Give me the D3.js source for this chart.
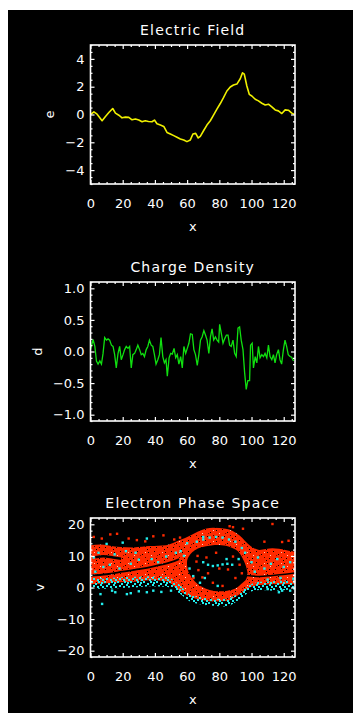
<!DOCTYPE html>
<html>
<head>
<meta charset="utf-8">
<script src="https://cdn.jsdelivr.net/npm/d3@7/dist/d3.min.js"></script>
<style>
  html, body { margin: 0; padding: 0; background: #fff; overflow: hidden; }
  svg { display: block; position: absolute; left: 0; top: 0; }
  text { font-family: "DejaVu Sans", sans-serif; fill: #fff; }
</style>
</head>
<body>
<div class="canvas"></div>
<script>
// ---- data ----
const xTicks = [0, 20, 40, 60, 80, 100, 120];

// electric field
const efX = [0,2.1,4.1,7.2,9.3,11.4,13.8,15.5,17.6,19.6,21.7,23.8,25.8,27.9,30,32,34,36,38.2,39.7,
  41.3,43.4,45.5,47.5,49.6,51.7,53.7,55.8,57.9,59.9,62,63.6,65.3,66.9,68.2,70.2,72.3,74.4,76.4,78.5,
  80.6,82.6,84.7,86.8,88.8,90.9,93,94.4,95.5,97.1,98.6,100.2,102.3,104.3,106.4,108.5,110.5,112.6,114.7,116.7,
  118.8,120.9,122.9,125,126.7];
const efY = [0,0.19,0.02,-0.45,-0.14,0.14,0.43,0.1,-0.05,-0.24,-0.19,-0.21,-0.38,-0.33,-0.4,-0.52,-0.45,-0.5,-0.52,-0.4,
  -0.67,-0.76,-0.86,-1.29,-1.4,-1.52,-1.64,-1.76,-1.83,-1.95,-1.83,-1.4,-1.36,-1.69,-1.57,-1.17,-0.76,-0.45,-0.05,0.38,
  0.79,1.21,1.69,1.98,2.12,2.19,2.57,3.0,2.9,2.05,1.45,1.33,1.1,0.98,0.81,0.69,0.74,0.55,0.33,0.26,
  0.07,0.33,0.31,0.1,0];
const efTicks = [-4, -2, 0, 2, 4];

// charge density
const cdX = [0,1.6,2.7,3.7,4.7,5.8,6.8,7.8,8.8,9.9,10.9,11.9,13,14,15,16,17.1,18.1,19.1,20.2,
  21.2,22.2,23.3,24.3,25.3,26.3,27.4,28.4,29.4,30.5,31.5,32.5,33.5,34.6,35.6,36.6,37.7,38.7,39.7,40.7,
  41.8,42.8,43.8,44.9,45.9,46.9,47.7,48.8,49.8,50.8,51.9,52.9,53.9,54.9,56,57,58,59.1,60.1,61.1,
  62.1,63.2,64.2,65.2,66.3,67.3,68.3,69.3,70.4,71.4,72.4,73.5,74.5,75.5,76.5,77.6,78.6,79.6,80.2,81.3,
  82.3,83.3,84.4,85.4,86.4,87.4,88.5,89.5,90.5,91.6,92.6,93.6,94.7,95.7,96.7,97.7,98.8,99.4,100.4,101.2,
  102.3,103.3,104.3,105.3,106.4,107.4,108.4,109.5,110.5,111.5,112.6,113.6,114.6,115.6,116.7,117.7,118.7,119.8,120.8,121.8,
  122.8,123.9,124.9,126.1];
const cdY = [0.03,0.19,0.08,-0.15,-0.2,-0.15,-0.2,-0.03,0.22,0.18,0.2,0.18,0.1,0.08,-0.05,-0.26,-0.03,0.08,-0.13,-0.05,
  0.03,0.08,0.05,0.08,-0.26,-0.05,-0.03,0.03,0.1,0.03,-0.05,-0.03,-0.08,0.03,0.08,0.18,0.1,0.08,-0.05,-0.2,
  -0.13,-0.05,0.22,-0.08,-0.18,-0.13,-0.39,-0.1,-0.03,-0.04,0.05,-0.1,-0.05,-0.2,-0.08,-0.26,0.08,-0.03,0.05,0.13,
  0.28,0.27,0.03,-0.05,-0.22,-0.05,0.18,0.23,0.33,0.26,0.18,-0.03,0.23,0.36,0.18,0.23,0.18,0.15,0.43,0.28,
  0.13,0.2,0.26,0.26,0.1,0.08,0.18,-0.03,-0.08,0.37,0.39,0.18,0.03,-0.33,-0.6,-0.46,-0.46,0.1,0.13,-0.26,
  -0.08,-0.18,0.08,-0.1,-0.05,-0.08,-0.03,-0.1,0.1,-0.08,-0.13,-0.05,-0.18,-0.05,0.03,-0.13,-0.2,0.03,0.18,0.08,
  -0.05,-0.08,-0.09,-0.15];
const cdTicks = [-1, -0.5, 0, 0.5, 1];

// electron phase space: envelopes of the dense bands
const psX       = [0, 6, 16.5, 27, 37, 47, 55.5, 62, 68, 76, 84, 92.6, 98.8, 105, 113, 121, 127];
const redTop    = [13.4, 13.6, 12.9, 12.7, 13.1, 13.4, 15, 16.5, 18, 18.9, 18.6, 16.5, 13.4, 11.9, 12.4, 11.9, 11.3];
const redBottom = [1.0, 1.2, 1.6, 1.8, 2.3, 2.0, -1.2, -3.0, -3.8, -4.4, -4.3, -2.1, 0, 0.8, 1.0, 1.0, 1.0];
const cyanTop   = [3.0, 3.0, 3.2, 3.4, 3.6, 3.4, 0.8, -2.3, -3.0, -3.6, -3.6, -1.6, 0.8, 1.8, 2.0, 2.2, 2.2];
const cyanBot   = [-0.3, -0.4, -0.2, 0, 0.4, 0.2, -2, -4.5, -5.3, -5.8, -6.0, -3.8, -1.4, -0.8, -1.0, -0.8, -0.6];

// vortex hole outline
const holeX = [60, 62, 64, 68, 76, 84, 90, 93, 96, 97.5, 96.5, 94.5, 90, 85, 80, 74, 69, 65.5, 62.5, 60.5];
const holeV = [8.5, 10.5, 11.5, 12.6, 13.4, 13.2, 12, 10.5, 7.5, 4.5, 2.5, 1.5, -0.3, -1, -1.2, -0.8, 0.3, 1.6, 3.5, 5.5];

// dark streaks inside the bands
const streakLeftX  = [0, 10, 20, 30, 40, 50, 55];
const streakLeftV  = [3.8, 4.2, 5, 5.8, 6.8, 8, 9];
const streakTopX   = [3, 8, 14, 19];
const streakTopV   = [9.6, 9.9, 9.5, 9.1];
const streakRightX = [97, 105, 113, 121, 127];
const streakRightV = [3.8, 3.5, 3.8, 4.2, 4.6];

// loose particles
const redDotX = [2,7,12.3,16.5,23.7,28.8,34,39,45.3,52,55.6,86.4,88.5,94.7,113,119,123,108,
  65.8,67,69.5,72,73,80,85.4,88.5,92.6,90,76,82,64,66.5,78,94];
const redDotV = [16,15.5,16.8,17,15.5,15,14.6,16.2,16.5,15.2,15.8,19.4,19.1,18.6,20.1,14.4,14.8,14.5,
  8.2,5.5,3.2,9.5,4.5,6,5.7,9.8,7.2,3,1.5,0.5,3,10,11,4.5];
const cyanDotX = [35,20,10,60,70,
  6.2,7.2,13.4,15.4,22.6,25,30,35,39,44,50,117,119,110,124,
  73,76,79,82,85,88,70,63.8,68,79,71,61.5,92,84.5,
  66,70,74,78,82,86,90,94,96,
  3,8,12,18,25,30,38,42,47,53,56,58,2,5,15,22,28,
  100,104,108,112,116,120,124,102,110,118,126];
const cyanDotV = [15.5,14.2,13.8,14,16,
  -2.1,-5.2,-1,-1.5,-2.1,-1.8,-1.2,-1.5,-1,-1.4,-1,-1.5,-1,-0.5,-1,
  7.2,6.8,7,7.3,7.5,7.2,8,3.6,1.5,0.5,3,6,9,9,
  14.5,15.2,15.8,16,15.8,15.2,14.5,12.5,11,
  5,6.5,7.2,6,7.5,8.8,9,8,9.8,11,11.5,10,9.5,11,10.5,11.5,11,
  8,9.5,6,7.5,9,6.5,8,5,2.5,3,2.8];
const psTicks = [-20, -10, 0, 10, 20];

// ---- layout ----
const width = 353, height = 718;
const left = 90.5, right = 295, plotH = 139;
const tops = [45, 282, 518];

const svg = d3.select(".canvas").append("svg")
  .attr("width", width).attr("height", height);

svg.append("rect").attr("x", 8).attr("y", 10)
  .attr("width", width - 8).attr("height", 703).attr("fill", "#000");

const defs = svg.append("defs");
// speckled red for the dense electron bands
const redPat = defs.append("pattern").attr("id", "redSpeck")
  .attr("patternUnits", "userSpaceOnUse").attr("width", 17).attr("height", 11);
redPat.append("rect").attr("width", 17).attr("height", 11).attr("fill", "#ff2a00");
[[1, 1, "#000"], [6, 4, "#000"], [12, 2, "#000"], [14, 8, "#000"], [3, 8, "#000"], [9, 7, "#3a0800"],
 [9, 2, "#ffc0b0"], [15, 5, "#ffd0c0"], [4, 5, "#7a1000"], [11, 10, "#000"]].forEach(p =>
  redPat.append("rect").attr("x", p[0]).attr("y", p[1]).attr("width", 1).attr("height", 1).attr("fill", p[2]));
const cyanPat = defs.append("pattern").attr("id", "cyanSpeck")
  .attr("patternUnits", "userSpaceOnUse").attr("width", 13).attr("height", 7);
[[0, 0], [4, 2], [2, 4], [7, 0], [9, 3], [11, 5], [6, 5], [10, 1]].forEach(p =>
  cyanPat.append("rect").attr("x", p[0]).attr("y", p[1]).attr("width", 2).attr("height", 2).attr("fill", "#22eeee"));

const x = d3.scaleLinear().domain([0, 127]).range([left, right]);

function range(a, b, step) {
  return d3.range(Math.round((b - a) / step) + 1).map(i => +(a + i * step).toFixed(6));
}

function drawFrame(top, y, yMajor, yMinorStep, fmt, title, ytitle, ytitleX) {
  const bottom = top + plotH;
  const g = svg.append("g");
  const [y0, y1] = y.domain();
  const yMinor = range(Math.ceil(y0 / yMinorStep) * yMinorStep, y1, yMinorStep)
    .filter(v => !yMajor.some(m => Math.abs(m - v) < 1e-6));
  const xMinor = range(0, 125, 5).filter(v => v % 20 !== 0);

  const axes = [
    [d3.axisBottom(x).tickValues(xTicks).tickSize(-4).tickPadding(15), `translate(0,${bottom})`],
    [d3.axisBottom(x).tickValues(xMinor).tickSize(-2).tickFormat(""), `translate(0,${bottom})`],
    [d3.axisTop(x).tickValues(xTicks).tickSize(-4).tickFormat(""), `translate(0,${top})`],
    [d3.axisTop(x).tickValues(xMinor).tickSize(-2).tickFormat(""), `translate(0,${top})`],
    [d3.axisLeft(y).tickValues(yMajor).tickSize(-4).tickPadding(6).tickFormat(fmt), `translate(${left},0)`],
    [d3.axisLeft(y).tickValues(yMinor).tickSize(-2).tickFormat(""), `translate(${left},0)`],
    [d3.axisRight(y).tickValues(yMajor).tickSize(-4).tickFormat(""), `translate(${right},0)`],
    [d3.axisRight(y).tickValues(yMinor).tickSize(-2).tickFormat(""), `translate(${right},0)`]
  ];
  axes.forEach(([ax, tr]) => {
    const a = g.append("g").attr("transform", tr).call(ax.tickSizeOuter(0));
    a.select(".domain").remove();
    a.selectAll("line").attr("stroke", "#fff").attr("stroke-width", 1.2);
    a.selectAll("text").attr("fill", "#fff").attr("font-size", 13)
      .attr("font-family", "DejaVu Sans");
  });

  g.append("rect").attr("x", left).attr("y", top)
    .attr("width", right - left).attr("height", plotH)
    .attr("fill", "none").attr("stroke", "#fff").attr("stroke-width", 1.6);

  g.append("text").attr("x", (left + right) / 2).attr("y", top - 10)
    .attr("text-anchor", "middle").attr("font-size", 14)
    .attr("letter-spacing", "1.2px").text(title);
  g.append("text").attr("x", (left + right) / 2).attr("y", bottom + 46.5)
    .attr("text-anchor", "middle").attr("font-size", 13).text("x");
  g.append("text")
    .attr("transform", `translate(${ytitleX},${(top + bottom) / 2}) rotate(-90)`)
    .attr("text-anchor", "middle").attr("font-size", 13).text(ytitle);
}

const minus = s => s.replace("-", "\u2212");

// ---- panel 1: electric field ----
const y1 = d3.scaleLinear().domain([-5, 5]).range([tops[0] + plotH, tops[0]]);
svg.append("path")
  .datum(efX.map((v, i) => [v, efY[i]]))
  .attr("fill", "none").attr("stroke", "#f0f000").attr("stroke-width", 1.6)
  .attr("stroke-linejoin", "round")
  .attr("d", d3.line().x(d => x(d[0])).y(d => y1(d[1])));
drawFrame(tops[0], y1, efTicks, 0.5, d => minus(d3.format("d")(d)), "Electric Field", "e", 54);

// ---- panel 2: charge density ----
const y2 = d3.scaleLinear().domain([-1.1, 1.1]).range([tops[1] + plotH, tops[1]]);
svg.append("path")
  .datum(cdX.map((v, i) => [v, cdY[i]]))
  .attr("fill", "none").attr("stroke", "#10e010").attr("stroke-width", 1.3)
  .attr("d", d3.line().x(d => x(d[0])).y(d => y2(d[1])));
drawFrame(tops[1], y2, cdTicks, 0.1, d => minus(d3.format(".1f")(d)), "Charge Density", "d", 42);

// ---- panel 3: electron phase space ----
const y3 = d3.scaleLinear().domain([-22, 22]).range([tops[2] + plotH, tops[2]]);
const ps = svg.append("g");
const band = (top, bot) => d3.area().x((d, i) => x(psX[i])).y0((d, i) => y3(bot[i])).y1((d, i) => y3(top[i]))
  .curve(d3.curveMonotoneX)(psX);
ps.append("path").attr("d", band(redTop, redBottom)).attr("fill", "url(#redSpeck)");
ps.append("path").attr("d", band(cyanTop, cyanBot)).attr("fill", "url(#cyanSpeck)");
ps.append("path")
  .attr("d", d3.line().x((d, i) => x(holeX[i])).y((d, i) => y3(holeV[i])).curve(d3.curveCardinalClosed)(holeX))
  .attr("fill", "#000");
[[streakLeftX, streakLeftV, 1.8], [streakTopX, streakTopV, 2.5], [streakRightX, streakRightV, 1.6]].forEach(([sx, sv, w]) =>
  ps.append("path")
    .attr("d", d3.line().x((d, i) => x(sx[i])).y((d, i) => y3(sv[i])).curve(d3.curveMonotoneX)(sx))
    .attr("fill", "none").attr("stroke", "#000").attr("stroke-width", w));
ps.selectAll(".rdot").data(redDotX).join("rect").attr("class", "rdot")
  .attr("x", (d, i) => x(d) - 1.2).attr("y", (d, i) => y3(redDotV[i]) - 1.2)
  .attr("width", 2.4).attr("height", 2.4).attr("fill", "#ff2a00");
ps.selectAll(".cdot").data(cyanDotX).join("rect").attr("class", "cdot")
  .attr("x", (d, i) => x(d) - 1.2).attr("y", (d, i) => y3(cyanDotV[i]) - 1.2)
  .attr("width", 2.4).attr("height", 2.4).attr("fill", "#22eeee");
drawFrame(tops[2], y3, psTicks, 2, d => minus(d3.format("d")(d)), "Electron Phase Space", "v", 44);
</script>
</body>
</html>
